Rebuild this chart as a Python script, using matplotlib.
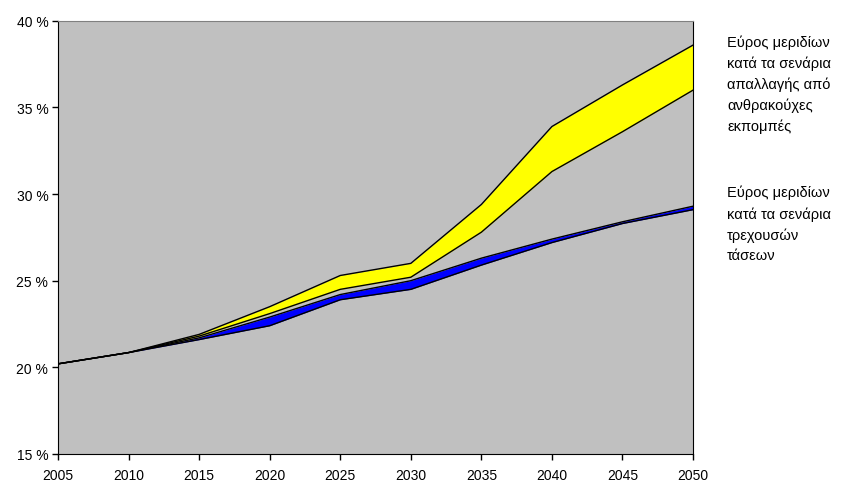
import numpy as np
import matplotlib
matplotlib.use('Agg')
import matplotlib.pyplot as plt

plt.rcParams['font.family'] = ['Liberation Sans', 'DejaVu Sans']

years = [2005, 2010, 2015, 2020, 2025, 2030, 2035, 2040, 2045, 2050]

# range of shares, decarbonisation scenarios (yellow band)
yellow_low = [20.2, 20.85, 21.8, 23.1, 24.5, 25.2, 27.8, 31.3, 33.6, 36.0]
yellow_high = [20.2, 20.85, 21.9, 23.5, 25.3, 26.0, 29.4, 33.9, 36.3, 38.6]

# range of shares, current trends scenarios (blue band)
blue_low = [20.2, 20.85, 21.6, 22.4, 23.9, 24.5, 25.9, 27.2, 28.3, 29.1]
blue_high = [20.2, 20.85, 21.7, 22.9, 24.2, 25.0, 26.3, 27.4, 28.4, 29.3]

label_yellow = "Εύρος μεριδίων\nκατά τα σενάρια\nαπαλλαγής από\nανθρακούχες\nεκπομπές"
label_blue = "Εύρος μεριδίων\nκατά τα σενάρια\nτρεχουσών\nτάσεων"

fig = plt.figure(figsize=(8.57, 4.85), dpi=100)
ax = fig.add_axes([0.0677, 0.062, 0.741, 0.893])
ax.set_facecolor('#C0C0C0')

ax.fill_between(years, blue_low, blue_high, color='#0000FF', lw=0)
ax.fill_between(years, yellow_low, yellow_high, color='#FFFF00', lw=0)
for s in (blue_low, blue_high, yellow_low, yellow_high):
    ax.plot(years, s, color='black', lw=1)

ax.set_xlim(2005, 2050)
ax.set_ylim(15, 40)
ax.set_xticks(years)
ax.set_yticks([15, 20, 25, 30, 35, 40])
ax.set_yticklabels([f"{v} %" for v in [15, 20, 25, 30, 35, 40]])
ax.tick_params(direction='out', length=4, width=1, labelsize=10)
ax.tick_params(axis='x', pad=6)
ax.tick_params(axis='y', pad=3)

for side in ('left', 'bottom', 'right'):
    ax.spines[side].set_color('black')
ax.spines['top'].set_color('#808080')

fig.text(727 / 857, 1 - 35 / 485, label_yellow, fontsize=10.5, va='top', ha='left', linespacing=1.58)
fig.text(727 / 857, 1 - 186 / 485, label_blue, fontsize=10.5, va='top', ha='left', linespacing=1.58)

fig.savefig('out.png', dpi=100)
